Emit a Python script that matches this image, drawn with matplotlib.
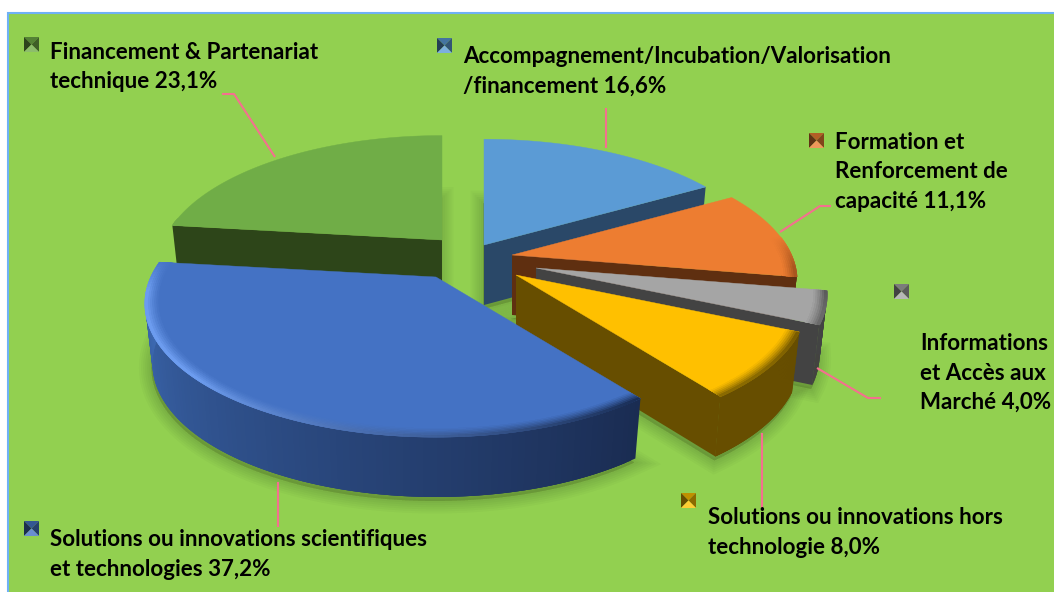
import numpy as np
import matplotlib
matplotlib.use('Agg')
import matplotlib.pyplot as plt
from matplotlib.patches import Rectangle

plt.rcParams['font.family'] = ['Lato', 'DejaVu Sans']

# clockwise from 12 o'clock
names = [['Accompagnement/Incubation/Valorisation', '/financement 16,6%'],
         ['Formation et', 'Renforcement de', 'capacité 11,1%'],
         ['Informations', 'et Accès aux', 'Marché 4,0%'],
         ['Solutions ou innovations hors', 'technologie 8,0%'],
         ['Solutions ou innovations scientifiques', 'et technologies 37,2%'],
         ['Financement & Partenariat', 'technique 23,1%']]
shares = [16.6, 11.1, 4.0, 8.0, 37.2, 23.1]

top_colors = ['#5B9BD5', '#ED7D31', '#A5A5A5', '#FFC000', '#4472C4', '#70AD47']
wall_start = ['#2A4868', '#5F2F10', '#434343', '#674E00', '#1A2C52', '#2D4519']
wall_end = ['#2A4868', '#5F2F10', '#434343', '#674E00', '#3F6DB8', '#2D4519']
rim_start = ['#5B9BD5', '#A9561F', '#5A5A5A', '#7A5C00', '#1A2F58', '#70AD47']
rim_end = ['#5B9BD5', '#A9561F', '#6A6A6A', '#8A6A00', '#6C9CEF', '#70AD47']

# exploded slices: where each apex lands, in pixels
apex_x = [484, 512, 536, 516, 436, 442]
apex_y = [245, 255, 268, 275, 277, 240]
slice_r = [0.99, 0.98, 1, 1, 1, 0.975]
RX, RY, PERSP, DEPTH, TAPER = 285, 128, 0.2, 60, 0.975
draw_order = [5, 0, 1, 2, 3, 4]

# label layout
text_x = [463, 835, 920, 708, 50, 50]
text_y = [63, 149, 350, 524, 546, 59]
box_x = [437, 809, 894, 681, 24, 24]
box_y = [38, 133, 284, 493, 521, 37]
leaders = [[(606, 108), (606, 148)],
           [(780, 232), (820, 206), (831, 206)],
           [(817, 368), (868, 398), (881, 398)],
           [(762, 433), (762, 508)],
           [(278, 482), (278, 527)],
           [(222, 94), (234, 94), (275, 157)]]


def mix(c1, c2, t):
    a = np.array(matplotlib.colors.to_rgb(c1))
    b = np.array(matplotlib.colors.to_rgb(c2))
    return tuple(a + (b - a) * t)


def project(i, deg, r=1.0):
    a = np.radians(deg)
    r = r * slice_r[i]
    u, v = r * np.sin(a), r * np.cos(a)
    s = 1 / (1 + PERSP * v)
    return np.column_stack([apex_x[i] + RX * u * s, apex_y[i] - RY * v * s])


def drop(i, pts):
    # same points on the underside, which sits a little smaller
    out = np.array(pts, dtype=float)
    out[:, 0] = apex_x[i] + (out[:, 0] - apex_x[i]) * TAPER
    out[:, 1] += DEPTH
    return out


def fill(ax, pts, color, zo):
    ax.fill(pts[:, 0], pts[:, 1], color=color, lw=0, zorder=zo)


fig = plt.figure(figsize=(10.54, 5.92), dpi=100)
ax = fig.add_axes([0, 0, 1, 1])
ax.set_xlim(0, 1054)
ax.set_ylim(592, 0)
ax.axis('off')
ax.add_patch(Rectangle((7.5, 12.5), 1060, 600, fc='#92D050', ec='#6FB1F5', lw=1.5, zorder=0))

edges = np.concatenate([[0], np.cumsum(shares)]) * 360 / sum(shares)

# soft shadows on the ground
for i in range(len(shares)):
    arc = np.linspace(edges[i], edges[i + 1], 80)
    pts = np.vstack([[[apex_x[i], apex_y[i] + DEPTH]], drop(i, project(i, arc))])
    pts = pts + [-1, 4]
    for lw in [18, 15, 12, 9, 6, 3]:
        ax.fill(pts[:, 0], pts[:, 1], fc=(0, 0, 0, 0.022), ec=(0, 0, 0, 0.022), lw=lw, zorder=1)

for zo, i in enumerate(draw_order, start=2):
    a0, a1 = edges[i], edges[i + 1]
    apex = np.array([[apex_x[i], apex_y[i]]], dtype=float)
    # cut faces that look at the viewer
    for deg, sign in [(a0, -1), (a1, 1)]:
        if sign * np.sin(np.radians(deg)) > 1e-6:
            p = project(i, np.array([deg]))
            quad = np.vstack([apex, p, drop(i, p), apex + [0, DEPTH]])
            fill(ax, quad, wall_start[i], zo)
    # outer wall, each strip runs under the next one so no seams show
    arc = np.linspace(a0, a1, 121)
    step = arc[1] - arc[0]
    for d0 in arc[:-1]:
        if np.cos(np.radians(d0 + step / 2)) > 0.1:
            continue
        p = project(i, np.array([d0, min(d0 + 3 * step, a1)]))
        quad = np.vstack([p, drop(i, p)[::-1]])
        fill(ax, quad, mix(wall_start[i], wall_end[i], (d0 - a0) / (a1 - a0)), zo)
    # top
    top = np.vstack([apex, project(i, arc)])
    ax.fill(top[:, 0], top[:, 1], color=top_colors[i], lw=0.3, zorder=zo)
    # bevel along the front of the rim
    rings = np.linspace(0.95, 0.998, 8)
    for r0, r1 in zip(rings[:-1], rings[1:]):
        t = ((r0 - rings[0]) / (rings[-2] - rings[0])) ** 1.3
        for d0 in arc[:-1]:
            fade = 0.15 - np.cos(np.radians(d0 + step / 2))
            if fade <= 0:
                continue
            d1 = min(d0 + 3 * step, a1)
            edge = mix(rim_start[i], rim_end[i], min(1, (d0 - a0) / (a1 - a0) * 1.6))
            p = np.vstack([project(i, np.array([d0, d1]), r0), project(i, np.array([d1, d0]), r1 + 0.004)])
            fill(ax, p, mix(top_colors[i], edge, t * min(1, fade * 4)), zo)

for i, nm in enumerate(names):
    for j, line in enumerate(nm):
        ax.text(text_x[i], text_y[i] + j * 29.5, line, fontsize=16.1, fontweight='bold',
                color='black', va='baseline', ha='left', zorder=20)
    xs, ys = zip(*leaders[i])
    ax.plot(xs, ys, color='#F4708F', lw=1.5, zorder=15, solid_capstyle='butt')
    # little pyramid legend key
    x0, y0, w = box_x[i], box_y[i], 15
    m = (x0 + w / 2, y0 + w / 2)
    base = top_colors[i]
    tris = [([(x0, y0), (x0 + w, y0), m], mix(base, 'black', 0.25)),
            ([(x0, y0), (x0, y0 + w), m], mix(base, 'black', 0.6)),
            ([(x0 + w, y0), (x0 + w, y0 + w), m], mix(base, 'black', 0.45)),
            ([(x0, y0 + w), (x0 + w, y0 + w), m], mix(base, 'white', 0.2))]
    for pts, col in tris:
        ax.fill(*zip(*pts), color=col, lw=0, zorder=15)

fig.savefig('out.png', dpi=100)
